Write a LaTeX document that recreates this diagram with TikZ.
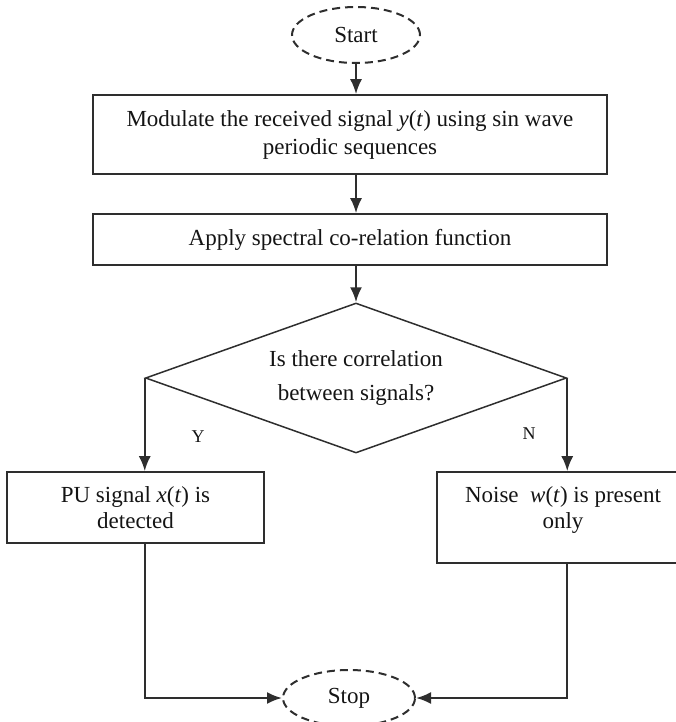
\documentclass[tikz,border=0pt]{standalone}
\usepackage{fontspec}
\setmainfont{Liberation Serif}
\usetikzlibrary{shapes.geometric,arrows.meta}
\definecolor{lineclr}{HTML}{2E2E2E}
\definecolor{textclr}{HTML}{141414}
\begin{document}
\begin{tikzpicture}[x=1pt,y=-1pt,
  font=\fontsize{23}{28}\selectfont,
  every node/.style={text=textclr},
  box/.style={draw=lineclr,line width=1.6pt,rectangle,align=center,inner sep=0pt},
  decision/.style={draw=lineclr,line width=1.5pt,diamond,shape aspect=2.8,align=center,inner sep=0pt},
  terminal/.style={draw=lineclr,ellipse,dash pattern=on 8pt off 5pt,line width=2pt,inner sep=0pt},
  flow/.style={draw=lineclr,line width=2.2pt,-{Latex[length=15pt,width=12pt]}},
  branch/.style={font=\fontsize{18}{22}\selectfont},
]
\useasboundingbox (0,0) rectangle (676,722);
\clip (0,0) rectangle (676,722);

% terminals
\node[terminal, minimum width=128, minimum height=56] (start) at (356,35) {Start};
\node[terminal, minimum width=132, minimum height=56] (stop) at (349,698) {Stop};

% process steps
\node[box, minimum width=514, minimum height=79] (mod) at (350,134.5)
  {Modulate the received signal \textit{y}(\textit{t}) using sin wave\\periodic sequences};
\node[box, minimum width=514, minimum height=51] (scf) at (350,239.5)
  {Apply spectral co-relation function};

% decision
\node[decision, minimum width=421, minimum height=150] (dec) at (356,378)
  {Is there correlation\\[6pt]between signals?};

% outcomes
\node[box, minimum width=257, minimum height=71, font=\fontsize{23}{26}\selectfont] (pu) at (135.5,507.5)
  {PU signal \textit{x}(\textit{t}) is\\detected};
\node[box, minimum width=252, minimum height=91] (noise) at (563,517.5) {};
\node[align=center, inner sep=0pt, font=\fontsize{23}{26}\selectfont] (noisetext) at (563,510)
  {Noise\ \ \textit{w}(\textit{t}) is present\\only};

% branch labels
\node[branch] (ylab) at (198,437) {Y};
\node[branch] (nlab) at (529,434) {N};

% connectors
\draw[flow] (start.south) -- (start.south |- mod.north);
\draw[flow] (start.south |- mod.south) -- (start.south |- scf.north);
\draw[flow] (start.south |- scf.south) -- (dec.north);
\draw[flow] (dec.west) -- (dec.west |- pu.north);
\draw[flow] (dec.east) -- (dec.east |- noise.north);
\draw[flow] (dec.west |- pu.south) -- (dec.west |- stop.west) -- (stop.west);
\draw[flow] (dec.east |- noise.south) -- (dec.east |- stop.east) -- (stop.east);
\end{tikzpicture}
\end{document}
